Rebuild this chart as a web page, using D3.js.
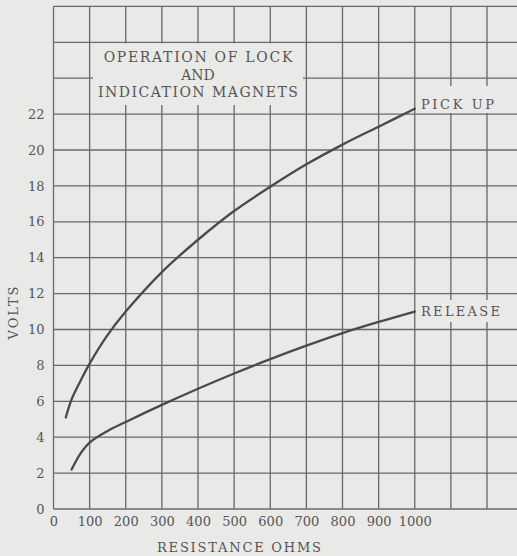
<!DOCTYPE html>
<html>
<head>
<meta charset="utf-8">
<script src="https://cdn.jsdelivr.net/npm/d3@7"></script>
<style>
  body { margin: 0; background: #e9e9e7; }
  svg { display: block; }
</style>
</head>
<body>
<div id="chart"></div>
<script>
// values
var xTicks = [0, 100, 200, 300, 400, 500, 600, 700, 800, 900, 1000];
var yTicks = [0, 2, 4, 6, 8, 10, 12, 14, 16, 18, 20, 22];
var gridX = [0, 100, 200, 300, 400, 500, 600, 700, 800, 900, 1000, 1100, 1200];
var gridY = [0, 2, 4, 6, 8, 10, 12, 14, 16, 18, 20, 22, 24, 26, 28];

var pickupOhms = [34, 50, 75, 100, 150, 200, 300, 400, 500, 600, 700, 800, 900, 1000];
var pickupVolts = [5.1, 6.1, 7.15, 8.1, 9.7, 11.0, 13.2, 15.0, 16.6, 17.95, 19.2, 20.3, 21.3, 22.3];
var releaseOhms = [50, 75, 100, 150, 200, 300, 400, 500, 600, 700, 800, 900, 1000];
var releaseVolts = [2.2, 3.1, 3.7, 4.35, 4.85, 5.8, 6.7, 7.55, 8.35, 9.1, 9.8, 10.42, 11.0];

var titleLines = ["OPERATION OF LOCK", "AND", "INDICATION MAGNETS"];

var width = 517, height = 556;
var paper = "#e9e9e7", ink = "#555", font = "'DejaVu Serif', serif";

var svg = d3.select("#chart").append("svg")
    .attr("width", width)
    .attr("height", height);

svg.append("rect").attr("width", width).attr("height", height).attr("fill", paper);

var x = d3.scaleLinear().domain([0, 1200]).range([53.5, 487]);
var y = d3.scaleLinear().domain([0, 28]).range([509, 6.4]);

// grid
var grid = svg.append("g").attr("stroke", "#686868").attr("stroke-width", 1.3);
grid.selectAll("line.h")
    .data(gridY)
    .enter().append("line")
    .attr("class", "h")
    .attr("x1", x(0)).attr("x2", width)
    .attr("y1", function (d) { return y(d); })
    .attr("y2", function (d) { return y(d); });
grid.selectAll("line.v")
    .data(gridX)
    .enter().append("line")
    .attr("class", "v")
    .attr("x1", function (d) { return x(d); })
    .attr("x2", function (d) { return x(d); })
    .attr("y1", y(28)).attr("y2", y(0));

// masks behind the labels
function mask(x0, y0, x1, y1) {
    svg.append("rect")
        .attr("x", x0).attr("y", y0)
        .attr("width", x1 - x0).attr("height", y1 - y0)
        .attr("fill", paper);
}
mask(93, y(26) + 1, 303, 105);
mask(418, 86, 500, 113);
mask(418, 300, 504, 322);

// title
svg.append("g").selectAll("text")
    .data(titleLines)
    .enter().append("text")
    .attr("x", 198)
    .attr("y", function (d, i) { return 62 + i * 17.5; })
    .attr("text-anchor", "middle")
    .attr("textLength", function (d) { return d.length * 11.1; })
    .attr("lengthAdjust", "spacing")
    .style("font-family", font)
    .style("font-size", "14px")
    .style("fill", ink)
    .text(function (d) { return d; });

// curves
var line = d3.line()
    .x(function (d) { return x(d[0]); })
    .y(function (d) { return y(d[1]); })
    .curve(d3.curveCatmullRom.alpha(0.5));

var series = [
    { name: "PICK UP", pts: d3.zip(pickupOhms, pickupVolts), labelY: 109, len: 73 },
    { name: "RELEASE", pts: d3.zip(releaseOhms, releaseVolts), labelY: 316, len: 79 }
];

svg.selectAll("path.curve")
    .data(series)
    .enter().append("path")
    .attr("class", "curve")
    .attr("d", function (d) { return line(d.pts); })
    .attr("fill", "none")
    .attr("stroke", "#4a4a4a")
    .attr("stroke-width", 2.3)
    .attr("stroke-linecap", "round");

svg.selectAll("text.lab")
    .data(series)
    .enter().append("text")
    .attr("class", "lab")
    .attr("x", 421)
    .attr("y", function (d) { return d.labelY; })
    .attr("textLength", function (d) { return d.len; })
    .attr("lengthAdjust", "spacing")
    .style("font-family", font)
    .style("font-size", "13px")
    .style("fill", ink)
    .text(function (d) { return d.name; });

// axes
var yAxis = svg.append("g")
    .attr("transform", "translate(" + x(0) + ",0)")
    .call(d3.axisLeft(y).tickValues(yTicks).tickSize(0).tickPadding(9));
yAxis.select(".domain").remove();
yAxis.selectAll("text")
    .style("font-family", font)
    .style("font-size", "13px")
    .style("fill", ink);

var xAxis = svg.append("g")
    .attr("transform", "translate(0," + y(0) + ")")
    .call(d3.axisBottom(x).tickValues(xTicks).tickFormat(d3.format("d")).tickSize(0).tickPadding(8));
xAxis.select(".domain").remove();
xAxis.selectAll("text")
    .style("font-family", font)
    .style("font-size", "13px")
    .style("fill", ink);

svg.append("text")
    .attr("x", 239)
    .attr("y", 552)
    .attr("text-anchor", "middle")
    .attr("textLength", 164)
    .attr("lengthAdjust", "spacing")
    .style("font-family", font)
    .style("font-size", "13px")
    .style("fill", ink)
    .text("RESISTANCE OHMS");

svg.append("text")
    .attr("transform", "translate(18,313) rotate(-90)")
    .attr("text-anchor", "middle")
    .attr("textLength", 53)
    .attr("lengthAdjust", "spacing")
    .style("font-family", font)
    .style("font-size", "13px")
    .style("fill", ink)
    .text("VOLTS");
</script>
</body>
</html>
